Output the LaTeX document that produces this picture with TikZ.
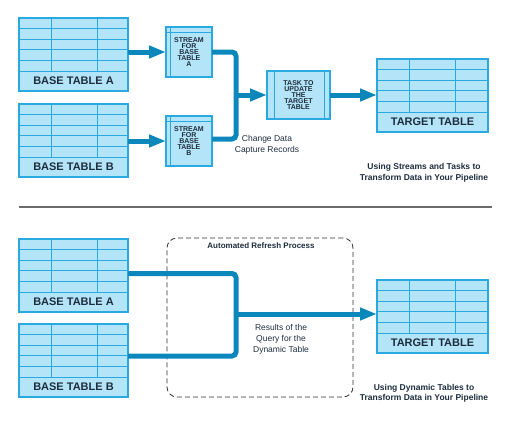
\documentclass[tikz,border=0pt]{standalone}
\usepackage{fontspec}
\setmainfont{Liberation Sans}
\usetikzlibrary{arrows.meta,calc}
\definecolor{tfill}{HTML}{B3E4F7}
\definecolor{tline}{HTML}{2AA9E0}
\definecolor{tarrow}{HTML}{0B87BC}
\definecolor{ttext}{HTML}{1E2D3D}
\definecolor{tgray}{HTML}{333333}
\tikzset{
  tbl/.style={draw=tline, fill=tfill, line width=1.2pt, inner sep=0pt, outer sep=0pt, minimum height=73pt, anchor=north west},
  gridln/.style={draw=tline, line width=0.9pt},
  tbllabel/.style={text=ttext, font=\bfseries\fontsize{11}{12}\selectfont, inner sep=0pt},
  smallbox/.style={draw=tline, fill=tfill, line width=1.2pt, inner sep=0pt, outer sep=0pt, align=center, text=ttext, font=\bfseries\fontsize{7}{6}\selectfont},
  conn/.style={draw=tarrow, line width=5pt, rounded corners=4pt},
  tip/.style={-{Triangle[length=17pt,width=12pt]}},
  note/.style={text=ttext, align=center, font=\fontsize{8.5}{11}\selectfont, inner sep=0pt},
  caption/.style={text=ttext, align=center, font=\bfseries\fontsize{8.5}{10.5}\selectfont, inner sep=0pt},
}
\newcommand\dbtbl[5]{%
  \node[tbl, minimum width=#4pt] (#1) at (#2,#3) {};
  \foreach \k in {1,...,5}
    \draw[gridln] ($(#1.north west)+(0,\k*10.6)$) -- ($(#1.north east)+(0,\k*10.6)$);
  \draw[gridln] ($(#1.north west)+(32,0)$) -- ++(0,53);
  \draw[gridln] ($(#1.north west)+(78.5,0)$) -- ++(0,53);
  \node[tbllabel] (#1-lbl) at ($(#1.south)+(0,-10.5)$) {#5};
}
\begin{document}
\begin{tikzpicture}[x=1pt,y=-1pt]
\useasboundingbox (0,0) rectangle (512,426);
% ---------- top ----------
\dbtbl{baseA}{19}{18}{109}{BASE TABLE A}
\dbtbl{baseB}{19}{104}{109}{BASE TABLE B}
\dbtbl{target}{377}{59}{111}{TARGET TABLE}

\node[smallbox, minimum width=46pt, minimum height=50pt] (streamA) at (189,52) {STREAM\\FOR\\BASE\\TABLE\\A};
\draw[gridln] ($(streamA.north west)+(0,5)$) -- ($(streamA.north east)+(0,5)$);
\draw[gridln] ($(streamA.north west)+(4,0)$) -- ($(streamA.south west)+(4,0)$);
\node[smallbox, minimum width=46pt, minimum height=50pt] (streamB) at (189,141) {STREAM\\FOR\\BASE\\TABLE\\B};
\draw[gridln] ($(streamB.north west)+(0,5)$) -- ($(streamB.north east)+(0,5)$);
\draw[gridln] ($(streamB.north west)+(4,0)$) -- ($(streamB.south west)+(4,0)$);

\node[smallbox, minimum width=63pt, minimum height=48pt] (task) at (298.5,95) {TASK TO\\UPDATE\\THE\\TARGET\\TABLE};
\draw[gridln] ($(task.north west)+(7,0)$) -- ($(task.south west)+(7,0)$);
\draw[gridln] ($(task.north east)+(-6,0)$) -- ($(task.south east)+(-6,0)$);

\draw[conn, tip] (baseA.east |- streamA.west) -- (streamA.west);
\draw[conn, tip] (baseB.east |- streamB.west) -- (streamB.west);
\coordinate (j) at (236,95);
\draw[conn] (streamA.east) -| (j) |- ([yshift=2pt]streamB.east);
\draw[conn, tip] (j) -- (task.west);
\draw[conn, tip] (task.east) -- (task.east -| target.west);

\node[note] (cdc) at (267,144.5) {Change Data\\Capture Records};
\node[caption] (cap1) at (424,173) {Using Streams and Tasks to\\Transform Data in Your Pipeline};

\coordinate (divL) at (19,207);
\coordinate (divR) at (492,207);
\draw[draw=gray!85!black, line width=1.2pt] (divL) -- (divR);

% ---------- bottom ----------
\node[draw=tgray, dashed, dash pattern=on 5pt off 3pt, line width=0.8pt, rounded corners=10pt, minimum width=186pt, minimum height=159pt, inner sep=0pt] (refresh) at (260,317.5) {};
\node[caption, font=\bfseries\fontsize{8}{10}\selectfont] (reflbl) at (261,246) {Automated Refresh Process};

\dbtbl{baseAb}{19}{239}{109}{BASE TABLE A}
\dbtbl{baseBb}{19}{324}{109}{BASE TABLE B}
\dbtbl{targetb}{377}{280}{111}{TARGET TABLE}

\coordinate (jb) at (236,314);
\draw[conn] ([yshift=2pt]baseAb.east) -| (jb) |- ([yshift=4.5pt]baseBb.east);
\draw[conn, tip] (jb) -- (jb -| targetb.west);

\node[note] (res) at (281,339) {Results of the\\Query for the\\Dynamic Table};
\node[caption] (cap2) at (424,393.5) {Using Dynamic Tables to\\Transform Data in Your Pipeline};
\end{tikzpicture}
\end{document}
